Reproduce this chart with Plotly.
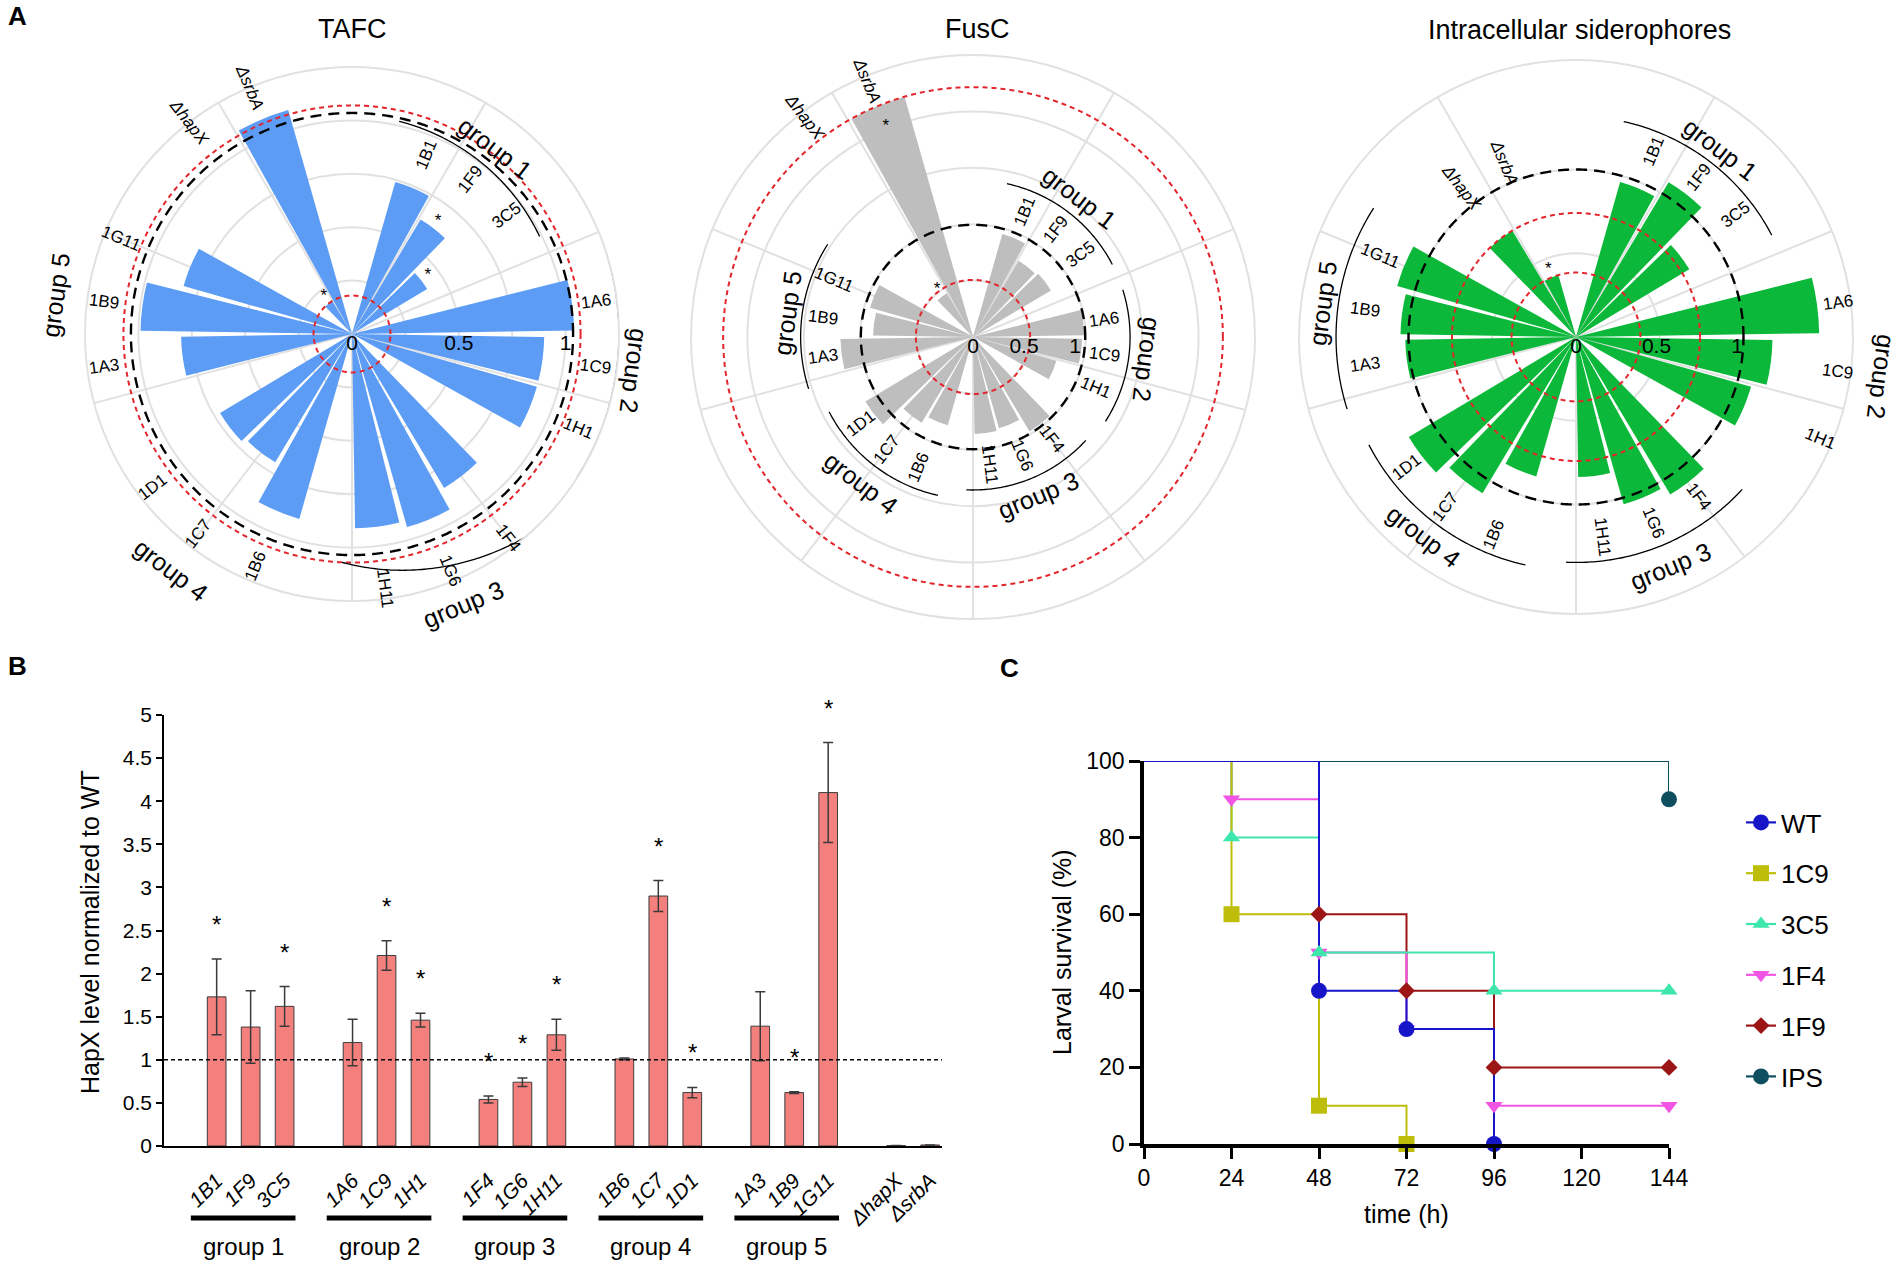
import numpy as np
import plotly.graph_objects as go

W, H = 1902, 1267
FONT = "Arial, Liberation Sans, Helvetica, sans-serif"

# ------------------------------------------------------------------ data
strains = ["1B1", "1F9", "3C5", "1A6", "1C9", "1H1", "1F4", "1G6", "1H11",
           "1B6", "1C7", "1D1", "1A3", "1B9", "1G11", "ΔhapX", "ΔsrbA"]
strain_group = [1, 1, 1, 2, 2, 2, 3, 3, 3, 4, 4, 4, 5, 5, 5, 0, 0]
strain_slot = [0, 1, 2, 4, 5, 6, 8, 9, 10, 12, 13, 14, 16, 17, 18, 20, 21]
group_names = ["group 1", "group 2", "group 3", "group 4", "group 5"]

# panel A (relative to WT)
tafc_values = [0.74, 0.625, 0.41, 1.04, 0.90, 0.90, 0.84, 0.94, 0.91,
               0.90, 0.70, 0.72, 0.80, 0.99, 0.82, 0.18, 1.09]
tafc_sig = ["1F9", "3C5", "ΔhapX"]
tafc_wt_ring = 1.035
tafc_mutant_rings = [0.18, 1.07]

fusc_values = [1.05, 0.87, 0.89, 1.09, 1.07, 0.85, 1.08, 0.93, 0.95,
               0.90, 0.98, 1.23, 1.30, 0.98, 1.05, 0.50, 2.45]
fusc_sig = ["ΔhapX", "ΔsrbA"]
fusc_wt_ring = 1.10
fusc_mutant_rings = [0.56, 2.45]

intra_values = [1.00, 1.12, 0.82, 1.51, 1.22, 1.13, 1.14, 1.08, 0.87,
                0.90, 1.13, 1.21, 1.06, 1.09, 1.155, 0.77, 0.40]
intra_sig = ["ΔsrbA"]
intra_wt_ring = 1.04
intra_mutant_rings = [0.40, 0.77]

# panel B
hapx_level = [1.73, 1.38, 1.62, 1.20, 2.21, 1.46, 0.54, 0.74, 1.29,
              1.01, 2.90, 0.62, 1.39, 0.62, 4.10, 0.005, 0.012]
hapx_err = [0.44, 0.42, 0.23, 0.27, 0.17, 0.08, 0.04, 0.05, 0.18,
            0.01, 0.18, 0.06, 0.40, 0.01, 0.58, 0.0, 0.0]
hapx_sig = [1, 0, 1, 0, 1, 1, 1, 1, 1, 0, 1, 1, 0, 1, 1, 0, 0]
hapx_wt = 1.0
hapx_ticks = [0, 0.5, 1, 1.5, 2, 2.5, 3, 3.5, 4, 4.5, 5]
hapx_max = 5

# panel C (Kaplan-Meier, time h / survival %)
surv_labels = ["WT", "1C9", "3C5", "1F4", "1F9", "IPS"]
wt_time, wt_surv = [0, 48, 72, 96], [100, 40, 30, 0]
c1c9_time, c1c9_surv = [0, 24, 48, 72], [100, 60, 10, 0]
c3c5_time, c3c5_surv = [0, 24, 48, 96, 144], [100, 80, 50, 40, 40]
c1f4_time, c1f4_surv = [0, 24, 48, 72, 96, 144], [100, 90, 50, 30, 10, 10]
c1f9_time, c1f9_surv = [0, 48, 72, 96, 144], [100, 60, 40, 20, 20]
ips_time, ips_surv = [0, 144], [100, 90]
time_ticks = [0, 24, 48, 72, 96, 120, 144]
surv_ticks = [0, 20, 40, 60, 80, 100]

# ------------------------------------------------------------------ helpers
GRID = "#e1e1e1"
ANG_GRID = [120, 157.5, -165, -127.5, -90, -52.5, -15, 22.5, 60]


def slot_angle(s):
    return 67.5 - 15 * s


def norm180(a):
    return (a + 180) % 360 - 180


def radial_textangle(th):
    a = norm180(th)
    if -90 <= a <= 90:
        return -a
    return norm180(180 - a)


def tangent_textangle(th):
    a = norm180(th)
    if -150 < a < -30:
        return -(a + 90)
    return norm180(90 - a)


charts = [
    dict(sub="polar", title="TAFC", values=tafc_values, sig=tafc_sig,
         color="#5C9CF5", wt=tafc_wt_ring, rings=tafc_mutant_rings,
         cx=352, cy=334, R=267, rmax=1.25, grid=[0.25, 0.5, 0.75, 1.0],
         tx=352, ty=29,
         lab_r={1: 0.91, 2: 1.15, 3: 1.20, 4: 1.18, 5: 1.17, 0: 1.25},
         arc_r={1: (1.02, 0.99), 2: (1.25, 1.25), 3: (1.28, 1.07),
                4: (1.28, 1.27), 5: (1.28, 1.27)},
         glab_r={1: 1.10, 2: 1.33, 3: 1.37, 4: 1.39, 5: 1.40},
         inside=[]),
    dict(sub="polar2", title="FusC", values=fusc_values, sig=fusc_sig,
         color="#BEBEBE", wt=fusc_wt_ring, rings=fusc_mutant_rings,
         cx=973, cy=337, R=282, rmax=2.765, grid=[0.553, 1.106, 1.659, 2.212],
         tx=977, ty=29,
         lab_r={1: 1.33, 2: 1.30, 3: 1.26, 4: 1.39, 5: 1.48, 0: 2.72},
         arc_r={1: (1.54, 1.54), 2: (1.54, 1.54), 3: (1.5, 1.5),
                4: (1.59, 1.59), 5: (1.69, 1.69)},
         glab_r={1: 1.72, 2: 1.72, 3: 1.68, 4: 1.80, 5: 1.84},
         inside=["ΔsrbA"]),
    dict(sub="polar3", title="Intracellular siderophores", values=intra_values,
         sig=intra_sig, color="#0CB83A", wt=intra_wt_ring,
         rings=intra_mutant_rings,
         cx=1576, cy=337, R=277, rmax=1.72, grid=[0.52, 1.04],
         tx=1579, ty=30,
         lab_r={1: 1.25, 2: 1.64, 3: 1.25, 4: 1.33, 5: 1.32, 0: 1.17},
         arc_r={1: (1.37, 1.37), 2: (1.78, 1.78), 3: (1.40, 1.40),
                4: (1.45, 1.45), 5: (1.49, 1.49)},
         glab_r={1: 1.47, 2: 1.91, 3: 1.54, 4: 1.56, 5: 1.59},
         inside=[]),
]

fig = go.Figure()
annotations = []
layout_polars = {}


def to_paper(ch, r, th):
    ppu = ch["R"] / ch["rmax"]
    t = np.radians(th)
    px = ch["cx"] + ppu * r * np.cos(t)
    py = ch["cy"] - ppu * r * np.sin(t)
    return px / W, 1 - py / H


circle_theta = np.linspace(0, 360, 721)

for ch in charts:
    sub = ch["sub"]
    ppu = ch["R"] / ch["rmax"]
    theta = [slot_angle(s) for s in strain_slot]
    fig.add_trace(go.Barpolar(
        r=ch["values"], theta=theta, width=13.2, subplot=sub,
        marker=dict(color=ch["color"], line=dict(width=0)),
        showlegend=False, hoverinfo="skip"))
    # reference rings
    for rr in ch["rings"]:
        fig.add_trace(go.Scatterpolar(
            r=[rr] * len(circle_theta), theta=circle_theta, mode="lines",
            line=dict(color="#e3262b", width=2, dash="5px,4px"),
            subplot=sub, showlegend=False, hoverinfo="skip"))
    fig.add_trace(go.Scatterpolar(
        r=[ch["wt"]] * len(circle_theta), theta=circle_theta, mode="lines",
        line=dict(color="black", width=2.4, dash="11px,7px"),
        subplot=sub, showlegend=False, hoverinfo="skip"))
    # group arcs
    for g in range(1, 6):
        ss = [strain_slot[i] for i in range(len(strains)) if strain_group[i] == g]
        a1, a2 = slot_angle(min(ss)), slot_angle(max(ss))
        ra, rb = ch["arc_r"][g]
        th_arc = np.linspace(a1 + 10, a2 - 10, 80)
        r_arc = np.linspace(ra, rb, 80)
        fig.add_trace(go.Scatterpolar(
            r=r_arc, theta=th_arc, mode="lines",
            line=dict(color="black", width=1.3),
            subplot=sub, showlegend=False, hoverinfo="skip"))
        gmid = (a1 + a2) / 2
        x, y = to_paper(ch, ch["glab_r"][g], gmid)
        annotations.append(dict(
            x=x, y=y, xref="paper", yref="paper", text=group_names[g - 1],
            showarrow=False, textangle=tangent_textangle(gmid),
            font=dict(size=25, family=FONT, color="black"),
            xanchor="center", yanchor="middle"))
    # category labels
    for i, name in enumerate(strains):
        th = slot_angle(strain_slot[i])
        x, y = to_paper(ch, ch["lab_r"][strain_group[i]], th)
        txt = "<i>%s</i>" % name if name.startswith("Δ") else name
        annotations.append(dict(
            x=x, y=y, xref="paper", yref="paper", text=txt, showarrow=False,
            textangle=radial_textangle(th),
            font=dict(size=17, family=FONT, color="black"),
            xanchor="center", yanchor="middle"))
    # significance stars
    st_r, st_t = [], []
    for i, name in enumerate(strains):
        if name in ch["sig"]:
            v = ch["values"][i]
            st_r.append(v - 22 / ppu if name in ch["inside"] else v + 8 / ppu)
            st_t.append(slot_angle(strain_slot[i]))
    fig.add_trace(go.Scatterpolar(
        r=st_r, theta=st_t, mode="text", text=["*"] * len(st_r),
        textposition="middle center",
        textfont=dict(size=17, family=FONT, color="black"),
        subplot=sub, showlegend=False, hoverinfo="skip"))
    # radial scale labels
    fig.add_trace(go.Scatterpolar(
        r=[0, 0.5, 1], theta=[0, 0, 0], mode="text", text=["0", "0.5", "1"],
        textposition="bottom center",
        textfont=dict(size=21, family=FONT, color="black"),
        subplot=sub, showlegend=False, hoverinfo="skip"))
    # title
    annotations.append(dict(
        x=ch["tx"] / W, y=1 - ch["ty"] / H, xref="paper", yref="paper",
        text=ch["title"], showarrow=False,
        font=dict(size=27, family=FONT, color="black"),
        xanchor="center", yanchor="middle"))

    cx, cy, R = ch["cx"], ch["cy"], ch["R"]
    layout_polars[sub] = dict(
        domain=dict(x=[(cx - R) / W, (cx + R) / W],
                    y=[1 - (cy + R) / H, 1 - (cy - R) / H]),
        bgcolor="white", hole=0,
        radialaxis=dict(range=[0, ch["rmax"]], tickmode="array",
                        tickvals=ch["grid"], showticklabels=False, ticks="",
                        showline=False, showgrid=True, gridcolor=GRID,
                        gridwidth=1.5, angle=0),
        angularaxis=dict(type="linear", thetaunit="degrees",
                         direction="counterclockwise", rotation=0,
                         tickmode="array", tickvals=[a % 360 for a in ANG_GRID],
                         showticklabels=False, ticks="", showgrid=True,
                         gridcolor=GRID, gridwidth=1.5, showline=True,
                         linecolor=GRID, linewidth=2))

# ------------------------------------------------------------------ panel B
bx = [s + 1 for s in strain_slot]
fig.add_trace(go.Bar(
    x=bx, y=hapx_level, width=0.55, xaxis="x", yaxis="y",
    marker=dict(color="#F4807E", line=dict(color="#3c3c3c", width=1)),
    error_y=dict(type="data", array=hapx_err, visible=True, color="#3a3a3a",
                 thickness=1.5, width=5),
    showlegend=False, hoverinfo="skip"))
for i in range(len(bx)):
    if hapx_sig[i]:
        annotations.append(dict(x=bx[i], y=(hapx_level[i] + hapx_err[i] + 0.40) / hapx_max,
                                xref="x", yref="y domain", text="*", showarrow=False,
                                font=dict(size=24, family=FONT, color="black"),
                                xanchor="center", yanchor="middle"))

shapes = [dict(type="line", xref="x domain", yref="y", x0=0, x1=1,
               y0=hapx_wt, y1=hapx_wt, line=dict(color="black", width=1.5, dash="4px,3px"))]
for g in range(1, 6):
    xs = [bx[i] for i in range(len(bx)) if strain_group[i] == g]
    x0, x1 = min(xs) - 0.76, max(xs) + 0.32
    shapes.append(dict(type="line", xref="x", yref="paper", x0=x0, x1=x1,
                       y0=1 - 1218 / H, y1=1 - 1218 / H,
                       line=dict(color="black", width=5)))
    annotations.append(dict(x=(x0 + x1) / 2, y=1 - 1246 / H, xref="x", yref="paper",
                            text=group_names[g - 1], showarrow=False,
                            font=dict(size=24, family=FONT, color="black"),
                            xanchor="center", yanchor="middle"))

annotations.append(dict(x=90 / W, y=1 - 932 / H, xref="paper", yref="paper",
                        text="HapX level normalized to WT", textangle=-90,
                        showarrow=False, font=dict(size=25, family=FONT, color="black"),
                        xanchor="center", yanchor="middle"))

# ------------------------------------------------------------------ panel C
surv_colors = ["#1616C8", "#BDBD0A", "#3DE6AA", "#F055E4", "#9C1616", "#0F4E5E"]
surv_symbols = ["circle", "square", "triangle-up", "triangle-down", "diamond", "circle"]
surv_sizes = [16, 16, 15, 15, 13, 16]
surv_series = [(wt_time, wt_surv), (c1c9_time, c1c9_surv), (c3c5_time, c3c5_surv),
               (c1f4_time, c1f4_surv), (c1f9_time, c1f9_surv), (ips_time, ips_surv)]

draw_order = [5, 4, 3, 2, 1, 0]
for k in draw_order:
    t, s = surv_series[k]
    fig.add_trace(go.Scatter(
        x=t, y=s, mode="lines", line=dict(color=surv_colors[k], width=2, shape="hv"),
        xaxis="x2", yaxis="y2", cliponaxis=False, showlegend=False, hoverinfo="skip"))
for k in draw_order:
    t, s = surv_series[k]
    fig.add_trace(go.Scatter(
        x=t[1:], y=s[1:], mode="markers",
        marker=dict(color=surv_colors[k], symbol=surv_symbols[k], size=surv_sizes[k],
                    line=dict(width=0)),
        xaxis="x2", yaxis="y2", cliponaxis=False, showlegend=False, hoverinfo="skip"))
for k in range(6):
    fig.add_trace(go.Scatter(
        x=[None], y=[None], mode="lines+markers", name=surv_labels[k],
        legendgroup=surv_labels[k],
        line=dict(color=surv_colors[k], width=2.2),
        marker=dict(color=surv_colors[k], symbol=surv_symbols[k], size=surv_sizes[k]),
        xaxis="x2", yaxis="y2", showlegend=True))

annotations.append(dict(x=1062 / W, y=1 - 952 / H, xref="paper", yref="paper",
                        text="Larval survival (%)", textangle=-90, showarrow=False,
                        font=dict(size=25, family=FONT, color="black"),
                        xanchor="center", yanchor="middle"))
annotations.append(dict(x=1406 / W, y=1 - 1214 / H, xref="paper", yref="paper",
                        text="time (h)", showarrow=False,
                        font=dict(size=25, family=FONT, color="black"),
                        xanchor="center", yanchor="middle"))

# panel letters
for letter, px, py in [("A", 17, 16), ("B", 17, 666), ("C", 1009, 668)]:
    annotations.append(dict(x=px / W, y=1 - py / H, xref="paper", yref="paper",
                            text="<b>%s</b>" % letter, showarrow=False,
                            font=dict(size=26, family=FONT, color="black"),
                            xanchor="center", yanchor="middle"))

fig.update_layout(
    width=W, height=H, template="none",
    margin=dict(l=0, r=0, t=0, b=0),
    paper_bgcolor="white", plot_bgcolor="white",
    font=dict(family=FONT, color="black"),
    xaxis=dict(domain=[164 / W, 942 / W], range=[-0.55, 22.35], anchor="y",
               tickmode="array", tickvals=bx,
               ticktext=strains, tickangle=-45,
               tickfont=dict(size=21, family=FONT, style="italic", color="black"),
               ticks="", ticklabelstandoff=12, showline=True, linecolor="black",
               linewidth=2, showgrid=False, zeroline=False),
    yaxis=dict(domain=[1 - 1146 / H, 1 - 715 / H], range=[0, hapx_max], anchor="x",
               tickmode="array", tickvals=hapx_ticks,
               ticktext=[("%g" % v) for v in hapx_ticks],
               ticks="outside", ticklen=6, tickwidth=1.5, tickcolor="black",
               tickfont=dict(size=21, family=FONT, color="black"),
               showline=True, linecolor="black", linewidth=1.5,
               showgrid=False, zeroline=False),
    xaxis2=dict(domain=[1144 / W, 1669 / W], range=[0, 144], anchor="y2",
                tickmode="array", tickvals=time_ticks,
                ticks="outside", ticklen=11, tickwidth=3, tickcolor="black",
                tickfont=dict(size=23, family=FONT, color="black"),
                showline=True, linecolor="black", linewidth=3.5,
                showgrid=False, zeroline=False),
    yaxis2=dict(domain=[1 - 1144 / H, 1 - 761 / H], range=[0, 100], anchor="x2",
                tickmode="array", tickvals=surv_ticks,
                ticks="outside", ticklen=11, tickwidth=3, tickcolor="black",
                tickfont=dict(size=23, family=FONT, color="black"),
                showline=True, linecolor="black", linewidth=3.5,
                showgrid=False, zeroline=False),
    legend=dict(x=1741 / W, y=1 - 799 / H, xanchor="left", yanchor="top",
                font=dict(size=26, family=FONT, color="black"),
                traceorder="grouped", tracegroupgap=14,
                bgcolor="rgba(0,0,0,0)", borderwidth=0),
    showlegend=True,
    annotations=annotations,
    shapes=shapes,
    **layout_polars,
)

fig.write_html("out.html", include_plotlyjs=True,
               config={"displayModeBar": False},
               post_script="document.body.style.margin='0px';")
